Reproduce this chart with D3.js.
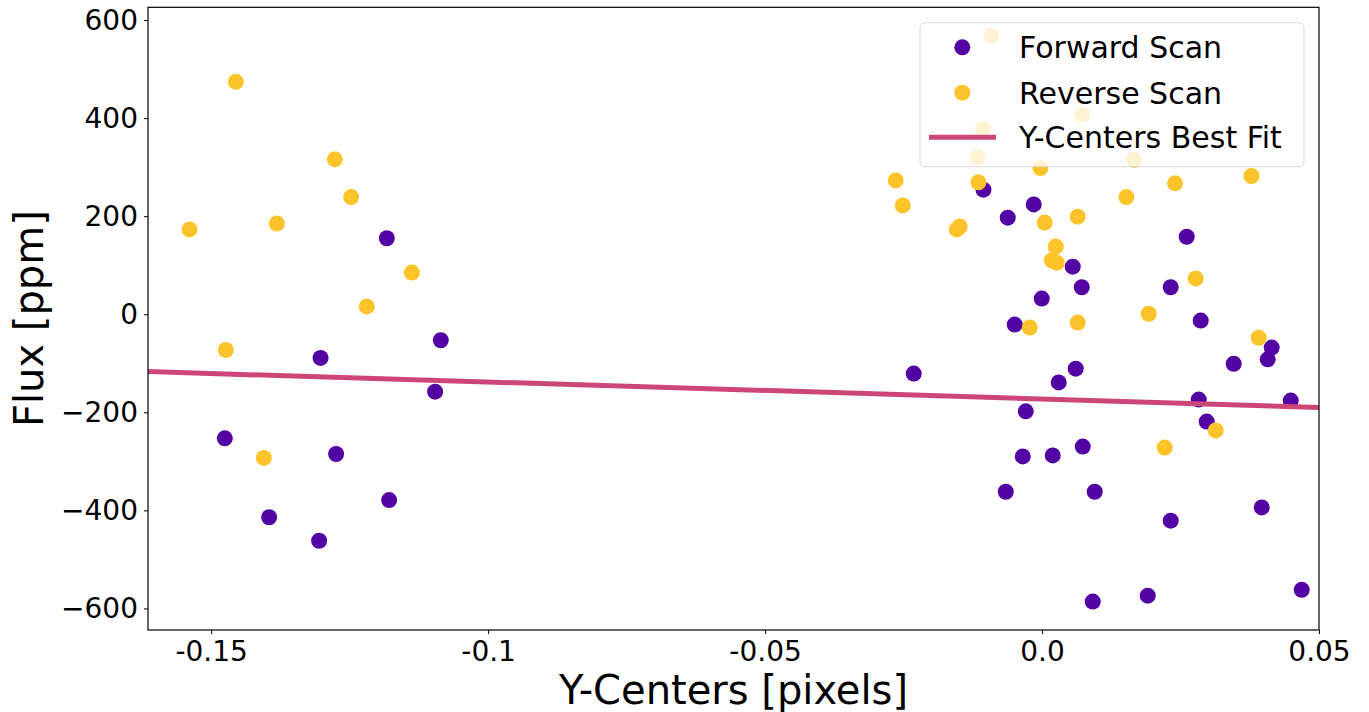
<!DOCTYPE html>
<html>
<head>
<meta charset="utf-8">
<script src="https://cdn.jsdelivr.net/npm/d3@7"></script>
<style>
  html, body { margin: 0; padding: 0; background: #fff; }
  svg { display: block; font-family: "DejaVu Sans", sans-serif; }
</style>
</head>
<body>
<svg id="chart" width="1369" height="712"></svg>
<script>
// ---- data ----
const forwardX = [-0.11829, -0.13025, -0.10854, -0.10957, -0.14753, -0.12744, -0.11787, -0.13953, -0.13051,
  -0.01058, -0.00619, -0.0015, 0.02612, 0.00554, 0.00717, 0.02323, -0.00005, -0.00493, 0.02865,
  -0.02316, 0.00608, 0.00301, 0.0346, 0.04074, 0.04146, 0.02829, 0.0449, -0.00294, 0.02973,
  -0.00348, 0.00193, 0.00735, -0.00655, 0.00951, 0.02323, 0.03966, 0.00915, 0.01908, 0.04688];
const forwardY = [155, -89, -53, -158, -253, -285, -379, -414, -462,
  254, 197, 224, 158, 97, 55, 55, 32, -21, -13,
  -121, -111, -139, -101, -92, -68, -174, -176, -198, -219,
  -290, -288, -270, -362, -362, -421, -394, -586, -574, -562];
const reverseX = [-0.14554, -0.12767, -0.12473, -0.1539, -0.13814, -0.11377, -0.1219, -0.14735, -0.14049,
  -0.00913, 0.00729, -0.0107, -0.01166, 0.01661, -0.01148, -0.02641, -0.02514, -0.0154, -0.01486,
  -0.00029, 0.00049, 0.00644, 0.00247, 0.00175, 0.00265, 0.01523, 0.02401, 0.0378, 0.02774,
  0.01926, -0.00222, 0.00644, 0.03911, 0.03135, 0.02215];
const reverseY = [474, 316, 239, 173, 185, 85, 16, -73, -293,
  568, 407, 378, 320, 315, 269, 273, 222, 173, 179,
  298, 187, 199, 138, 110, 105, 239, 267, 282, 73,
  1, -27, -17, -48, -237, -272];
const fitX = [-0.1614, 0.05];
const fitY = [-117, -190];
const xTicks = [-0.15, -0.1, -0.05, 0.0, 0.05];
const xTickLabels = ["-0.15", "-0.1", "-0.05", "0.0", "0.05"];
const yTicks = [-600, -400, -200, 0, 200, 400, 600];
const yTickLabels = ["\u2212600", "\u2212400", "\u2212200", "0", "200", "400", "600"];
const seriesNames = ["Forward Scan", "Reverse Scan", "Y-Centers Best Fit"];
const colors = { forward: "#5302a3", reverse: "#fdc32a", fit: "#cc4778" };

// ---- layout ----
const svg = d3.select("#chart");
const pL = 148, pR = 1319, pT = 7.3, pB = 630;
const x = d3.scaleLinear().domain([-0.1614, 0.05]).range([pL, pR]);
const y = d3.scaleLinear().domain([-644, 626]).range([pB, pT]);

svg.append("defs").append("clipPath").attr("id", "clip")
  .append("rect").attr("x", pL).attr("y", pT).attr("width", pR - pL).attr("height", pB - pT);
const inner = svg.append("g").attr("clip-path", "url(#clip)");

const r = 8;
inner.selectAll("circle.fwd").data(d3.zip(forwardX, forwardY)).enter()
  .append("circle").attr("class", "fwd")
  .attr("cx", d => x(d[0])).attr("cy", d => y(d[1])).attr("r", r)
  .attr("fill", colors.forward);
inner.selectAll("circle.rev").data(d3.zip(reverseX, reverseY)).enter()
  .append("circle").attr("class", "rev")
  .attr("cx", d => x(d[0])).attr("cy", d => y(d[1])).attr("r", r)
  .attr("fill", colors.reverse);
inner.append("path")
  .datum(d3.zip(fitX, fitY))
  .attr("d", d3.line().x(d => x(d[0])).y(d => y(d[1])))
  .attr("stroke", colors.fit).attr("stroke-width", 5).attr("fill", "none");

// axes
const fs = 28;
const xAxis = d3.axisBottom(x).tickValues(xTicks).tickFormat((d, i) => xTickLabels[i]).tickSize(4).tickPadding(8);
const gx = svg.append("g").attr("transform", `translate(0,${pB})`).call(xAxis);
const yAxis = d3.axisLeft(y).tickValues(yTicks).tickFormat((d, i) => yTickLabels[i]).tickSize(4).tickPadding(6);
const gy = svg.append("g").attr("transform", `translate(${pL},0)`).call(yAxis);
[gx, gy].forEach(g => {
  g.select(".domain").remove();
  g.selectAll("text").attr("font-size", fs).attr("font-family", "DejaVu Sans").attr("fill", "#000");
  g.selectAll("line").attr("stroke", "#000");
});
gx.selectAll("text").attr("dy", null).attr("y", 31);
gy.selectAll("text").attr("dy", "0.34em");

// frame
svg.append("rect").attr("x", pL).attr("y", pT).attr("width", pR - pL).attr("height", pB - pT)
  .attr("fill", "none").attr("stroke", "#000").attr("stroke-width", 1.2);

// axis labels
svg.append("text").attr("x", (pL + pR) / 2).attr("y", 704)
  .attr("text-anchor", "middle").attr("font-size", 40).text("Y-Centers [pixels]");
svg.append("text").attr("transform", `translate(43,${(pT + pB) / 2}) rotate(-90)`)
  .attr("text-anchor", "middle").attr("font-size", 40).text("Flux [ppm]");

// legend
const lg = svg.append("g");
lg.append("rect").attr("x", 920).attr("y", 22.7).attr("width", 384).attr("height", 144).attr("rx", 5)
  .attr("fill", "#fff").attr("fill-opacity", 0.8).attr("stroke", "#cccccc").attr("stroke-opacity", 0.8);
const ly = [47.3, 92.7, 137.3];
lg.append("circle").attr("cx", 962.3).attr("cy", ly[0]).attr("r", r).attr("fill", colors.forward);
lg.append("circle").attr("cx", 962.3).attr("cy", ly[1]).attr("r", r).attr("fill", colors.reverse);
lg.append("line").attr("x1", 929).attr("x2", 996).attr("y1", ly[2]).attr("y2", ly[2])
  .attr("stroke", colors.fit).attr("stroke-width", 5);
seriesNames.forEach((n, i) => {
  lg.append("text").attr("x", 1019).attr("y", ly[i]).attr("dy", "0.36em")
    .attr("font-size", 30).text(n);
});
</script>
</body>
</html>
